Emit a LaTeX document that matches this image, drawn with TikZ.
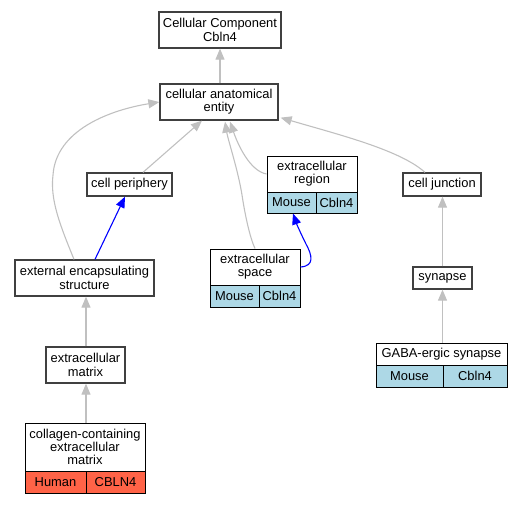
\documentclass[tikz,border=0pt]{standalone}
\usepackage{fontspec}
\setmainfont{Liberation Sans}
\usetikzlibrary{arrows.meta,calc}
\definecolor{edgegray}{HTML}{C0C0C0}
\definecolor{mouseblue}{HTML}{ADD8E6}
\definecolor{humanred}{HTML}{FF6347}
\begin{document}
\begin{tikzpicture}[x=1pt,y=-1pt,
  every node/.style={font=\fontsize{12.9}{13.3}\selectfont, inner sep=0pt, align=center},
  plainbox/.style={draw=black!75, line width=1.3pt, fill=white},
  titlebox/.style={draw=black, line width=1pt, fill=white},
  mcell/.style={draw=black, line width=1pt, fill=mouseblue},
  hcell/.style={draw=black, line width=1pt, fill=humanred},
  gedge/.style={draw=edgegray, line width=1.1pt, -{Triangle[length=11pt,width=9pt]}},
  bedge/.style={draw=blue, line width=1.1pt, -{Triangle[length=11pt,width=9pt]}}]
\useasboundingbox (0,0) rectangle (529,504);

\node[plainbox, minimum width=122pt, minimum height=36pt] (cc) at (220,30) {Cellular Component\\Cbln4};
\node[plainbox, minimum width=118pt, minimum height=36pt] (cae) at (219,102) {cellular anatomical\\entity};
\node[plainbox, minimum width=85pt, minimum height=23pt] (cp) at (129.5,184.5) {cell periphery};
\node[titlebox, minimum width=90pt, minimum height=36pt] (er) at (312,174) {extracellular\\region};
\node[mcell, minimum width=49pt, minimum height=21pt] (erA) at (291.5,202.5) {Mouse};
\node[mcell, minimum width=41pt, minimum height=21pt] (erB) at (336.5,202.5) {Cbln4};
\node[plainbox, minimum width=78pt, minimum height=23pt] (cj) at (442,184.5) {cell junction};
\node[titlebox, minimum width=90pt, minimum height=36pt] (es) at (255,267) {extracellular\\space};
\node[mcell, minimum width=49pt, minimum height=22pt] (esA) at (234.5,296) {Mouse};
\node[mcell, minimum width=41pt, minimum height=22pt] (esB) at (279.5,296) {Cbln4};
\node[plainbox, minimum width=139pt, minimum height=36pt] (ees) at (84.5,278) {external encapsulating\\structure};
\node[plainbox, minimum width=59pt, minimum height=22pt] (syn) at (442.5,278) {synapse};
\node[plainbox, minimum width=79pt, minimum height=36pt] (ecm) at (85.5,365) {extracellular\\matrix};
\node[titlebox, minimum width=131pt, minimum height=22pt] (gaba) at (441.5,354) {GABA-ergic synapse};
\node[mcell, minimum width=67pt, minimum height=22pt] (gabaA) at (409.5,376) {Mouse};
\node[mcell, minimum width=64pt, minimum height=22pt] (gabaB) at (475,376) {Cbln4};
\node[titlebox, minimum width=120pt, minimum height=48pt] (col) at (85,447) {collagen-containing\\extracellular\\matrix};
\node[hcell, minimum width=61pt, minimum height=22pt] (colA) at (55.5,482) {Human};
\node[hcell, minimum width=59pt, minimum height=22pt] (colB) at (115.5,482) {CBLN4};

% edges
\draw[gedge] (cae.north -| cc.south) -- (cc.south);
\draw[gedge] ($(cp.north)+(13.5,0)$) -- ($(cae.south)+(-17,0)$);
\draw[gedge] ($(ees.north)+(-10.5,0)$) .. controls (60,225) and (50,200) .. (53,175)
   .. controls (56,130) and (110,110) .. (cae.west);
\draw[bedge] ($(ees.north)+(10.5,0)$) -- ($(cp.south)+(-4.5,0)$);
\draw[gedge] (es.north) .. controls (250,238) and (245,215) .. (242,195)
   .. controls (238,170) and (228,140) .. ($(cae.south)+(6,1)$);
\draw[gedge] (er.west) .. controls (250,171) and (238,145) .. ($(cae.south)+(11,1)$);
\draw[bedge] (es.east) .. controls (315,266) and (312,255) .. (306,244)
   .. controls (302,236) and (297,225) .. (erA.south -| 293,0);
\draw[gedge] ($(cj.north)+(-17,0)$) .. controls (400,150) and (340,135) .. ($(cae.south east)+(2,-3)$);
\draw[gedge] (syn.north) -- (cj.south -| syn.north);
\draw[gedge] (gaba.north -| syn.north) -- (syn.south);
\draw[gedge] (ecm.north -| 86,0) -- (ees.south -| 86,0);
\draw[gedge] (col.north -| 86,0) -- (ecm.south -| 86,0);
\end{tikzpicture}
\end{document}
